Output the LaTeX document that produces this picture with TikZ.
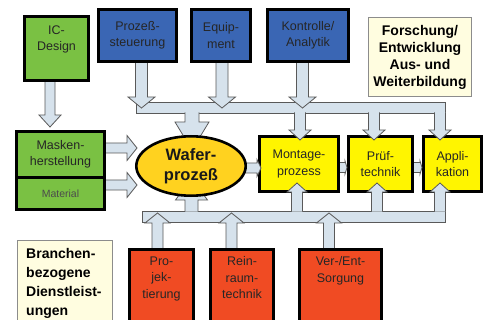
\documentclass[tikz,border=0pt]{standalone}
\usepackage{fontspec}
\setmainfont{Liberation Sans}
\usetikzlibrary{calc,positioning,shapes.geometric}
\usepackage{xcolor}
\definecolor{icgreen}{HTML}{7AC143}
\definecolor{ctrlblue}{HTML}{3A66B4}
\definecolor{servred}{HTML}{F04B23}
\definecolor{asmyellow}{HTML}{FFF500}
\definecolor{wafergold}{HTML}{FFD21F}
\definecolor{notecream}{HTML}{FFFDE0}
\definecolor{pipefill}{HTML}{D6E2EC}
\pgfdeclarelayer{boxes}
\pgfdeclarelayer{pipes}
\pgfsetlayers{boxes,pipes,main}
\newcommand\stagefont{\fontsize{12.5}{16.5}\selectfont}
\newcommand\notefont{\bfseries\fontsize{14}{17}\selectfont}
\tikzset{
  stage/.style={rectangle,draw=black,line width=2.6pt,font=\stagefont,
    align=center,text=black!85,inner sep=2pt},
  stagetext/.style={font=\stagefont,align=center,text=black!85},
  greenstage/.style={stage,fill=icgreen},
  bluestage/.style={stage,fill=ctrlblue},
  redstage/.style={stage,fill=servred},
  yellowstage/.style={stage,fill=asmyellow},
  note/.style={rectangle,draw=black!45,line width=0.7pt,fill=notecream,
    font=\notefont,align=center},
  pipe/.style={draw=black!65,line width=0.8pt,fill=pipefill,line join=miter},
  pipew/.store in=\pipehalf, pipew=5.5pt,
  pipehead/.code 2 args={\def\headhalf{#1}\def\headlen{#2}}, pipehead={11pt}{10pt},
  blockarrow/.style={pipe,to path={
    let \p1=(\tikztostart), \p2=(\tikztotarget),
        \n1={atan2(\y2-\y1,\x2-\x1)} in
    ($(\p1)+(\n1+90:\pipehalf)$)
    -- ($(\p2)+(\n1+180:\headlen)+(\n1+90:\pipehalf)$)
    -- ($(\p2)+(\n1+180:\headlen)+(\n1+90:\headhalf)$)
    -- (\p2)
    -- ($(\p2)+(\n1+180:\headlen)+(\n1-90:\headhalf)$)
    -- ($(\p2)+(\n1+180:\headlen)+(\n1-90:\pipehalf)$)
    -- ($(\p1)+(\n1-90:\pipehalf)$)}}
}
\begin{document}
\begin{tikzpicture}[x=1pt,y=-1pt]
  \useasboundingbox (0,0) rectangle (486,320);
  \clip (0,0) rectangle (486,320);

  % assembly line
  \begin{pgfonlayer}{boxes}
    \node[yellowstage,minimum width=79.4pt,minimum height=55.4pt] (montage) at (299,164) {Montage-\\prozess};
    \node[yellowstage,minimum width=64.4pt,minimum height=55.4pt] (pruef) at (380.5,164) {Prüf-\\technik};
    \node[yellowstage,minimum width=58.4pt,minimum height=55.4pt] (appli) at (452.5,164) {Appli-\\kation};
  \end{pgfonlayer}

  % design and masks
  \node[greenstage,minimum width=64.4pt,minimum height=64.4pt] (icdesign) at (56.5,48.5) {};
  \node[stagetext] (icdesigntxt) at ([yshift=9pt]icdesign.center) {IC-\\Design};
  \node[greenstage,minimum width=88.4pt,minimum height=46.4pt] (masken) at (60.5,154.5) {Masken-\\herstellung};
  \node[greenstage,minimum width=88.4pt,minimum height=32pt,below=-2.6pt of masken,
    font=\fontsize{10.5}{12}\selectfont,text=black!70] (material) {Material};

  % process control
  \node[bluestage,minimum width=78.4pt,minimum height=52.4pt] (prozess) at (137.5,35.5) {Prozeß-\\steuerung};
  \node[bluestage,minimum width=59.4pt,minimum height=52.4pt] (equip) at (221,35.5) {Equip-\\ment};
  \node[bluestage,minimum width=81.4pt,minimum height=52.4pt] (kontrolle) at (308,35.5) {Kontrolle/\\Analytik};

  \node[note,minimum width=103.3pt,minimum height=79.3pt] (forschung) at (420,57)
    {Forschung/\\Entwicklung\\Aus- und\\Weiterbildung};

  \node[ellipse,draw=black,line width=2.6pt,fill=wafergold,inner sep=0pt,
    minimum width=109.4pt,minimum height=59.4pt,align=center,text=black!90,
    font=\bfseries\fontsize{16.5}{20}\selectfont] (wafer) at (191,166) {Wafer-\\prozeß};

  % services
  \node[redstage,minimum width=64.4pt,minimum height=77.4pt,anchor=north] (projekt) at (161.5,248) {};
  \node[redstage,minimum width=63.4pt,minimum height=77.4pt,anchor=north] (reinraum) at (242,248) {};
  \node[redstage,minimum width=82.4pt,minimum height=77.4pt,anchor=north] (verent) at (340.5,248) {};
  \node[stagetext,anchor=north] (projekttxt) at ([yshift=-5pt]projekt.north) {Pro-\\jek-\\tierung};
  \node[stagetext,anchor=north] (reinraumtxt) at ([yshift=-5pt]reinraum.north) {Rein-\\raum-\\technik};
  \node[stagetext,anchor=north] (verenttxt) at ([yshift=-5pt]verent.north) {Ver-/Ent-\\Sorgung};

  \node[note,minimum width=95.3pt,minimum height=84.3pt,anchor=north] (branchen) at (65,240) {};
  \node[font=\bfseries\fontsize{14}{19}\selectfont,align=left,inner sep=0pt,anchor=north west]
    (branchentxt) at ([xshift=9pt,yshift=-8pt]branchen.north west)
    {Branchen-\\bezogene\\Dienstleist-\\ungen};

  \begin{pgfonlayer}{pipes}
    \coordinate (topbusA) at (136,102);
    \coordinate (topbusB) at (445.5,113);
    \coordinate (topbusout) at (0,112.4);
    \coordinate (botbusA) at (142,211);
    \coordinate (botbusB) at (445.5,222);
    \coordinate (botbusout) at (0,211.6);
    \coordinate (ictip) at (50,127);
    \coordinate (maskentip) at (137,148);
    \coordinate (materialtip) at (137,185);
    \coordinate (prozesstip) at (141.5,108);
    \coordinate (equiptip) at (222,108);
    \coordinate (kontrolletip) at (302.5,108);
    \coordinate (waferin) at (192,150);
    \coordinate (montagein) at (300,140);
    \coordinate (pruefin) at (374,140);
    \coordinate (appliin) at (440,140);
    \coordinate (waferup) at (191.5,178);
    \coordinate (montageup) at (297,183);
    \coordinate (pruefup) at (377,183);
    \coordinate (appliup) at (440,183);
    \coordinate (projekttip) at (157.5,213);
    \coordinate (reinraumtip) at (231.5,213);
    \coordinate (verenttip) at (329,213);
    \coordinate (waferstub) at (241,168);
    \coordinate (wafertip) at (261,168);
    \coordinate (stubrow) at (0,167.5);

    % collectors
    \draw[pipe] (topbusA) rectangle (topbusB);
    \draw[pipe] (botbusA) rectangle (botbusB);

    % out of the collectors
    \draw[blockarrow,pipew=7pt,pipehead={17pt}{28pt}] (topbusout -| waferin) to (waferin);
    \foreach \t in {montagein,pruefin,appliin}
      \draw[blockarrow] (topbusout -| \t) to (\t);
    \draw[blockarrow,pipew=6.5pt,pipehead={16pt}{22pt}] (botbusout -| waferup) to (waferup);
    \foreach \t in {montageup,pruefup,appliup}
      \draw[blockarrow,pipehead={10pt}{9pt}] (botbusout -| \t) to (\t);

    % into the collectors
    \draw[blockarrow,pipew=6pt,pipehead={13.5pt}{11pt}] (prozess.south -| prozesstip) to (prozesstip);
    \draw[blockarrow,pipew=6pt,pipehead={13.5pt}{11pt}] (equip.south -| equiptip) to (equiptip);
    \draw[blockarrow,pipew=6pt,pipehead={13.5pt}{11pt}] (kontrolle.south -| kontrolletip) to (kontrolletip);
    \draw[blockarrow,pipehead={12.5pt}{10pt}] (projekt.north -| projekttip) to (projekttip);
    \draw[blockarrow,pipehead={12.5pt}{10pt}] (reinraum.north -| reinraumtip) to (reinraumtip);
    \draw[blockarrow,pipehead={12.5pt}{10pt}] (verent.north -| verenttip) to (verenttip);

    % left side and the line
    \draw[blockarrow,pipew=5pt,pipehead={11pt}{12pt}] (icdesign.south -| ictip) to (ictip);
    \draw[blockarrow,pipew=5pt,pipehead={12.5pt}{10pt}] (masken.east |- maskentip) to (maskentip);
    \draw[blockarrow,pipew=5pt,pipehead={12.5pt}{10pt}] (material.east |- materialtip) to (materialtip);
    \draw[blockarrow,pipew=5pt,pipehead={8.5pt}{4pt}] (waferstub) to (wafertip);
    \draw[blockarrow,pipew=5pt,pipehead={6.5pt}{2pt}] (montage.east |- stubrow) to (pruef.west |- stubrow);
    \draw[blockarrow,pipew=5pt,pipehead={6.5pt}{2pt}] (pruef.east |- stubrow) to (appli.west |- stubrow);
  \end{pgfonlayer}
\end{tikzpicture}
\end{document}
